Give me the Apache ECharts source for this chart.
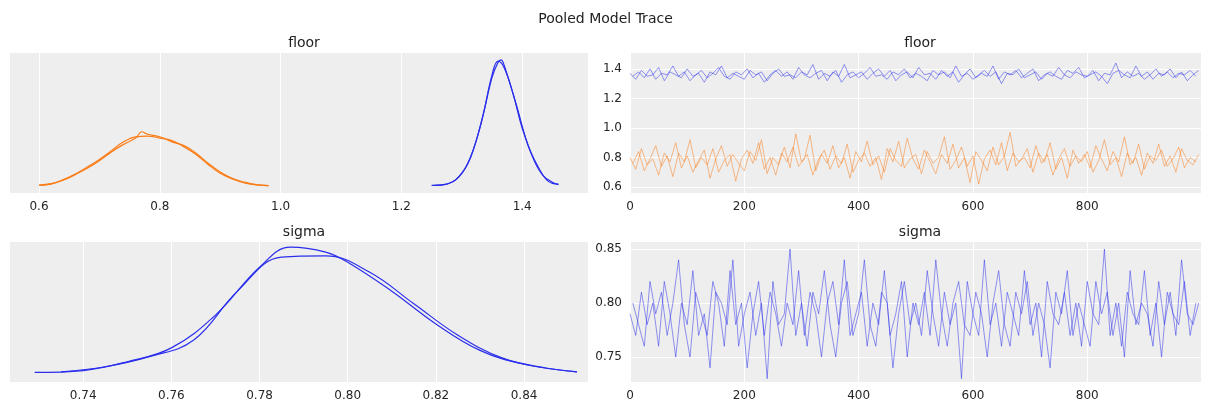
<!DOCTYPE html>
<html><head><meta charset="utf-8">
<script src="https://cdn.jsdelivr.net/npm/echarts@6/dist/echarts.min.js"></script>
<style>html,body{margin:0;background:#fff}#c{width:1211px;height:411px}</style>
</head><body><div id="c"></div>
<script>
// KDE curves: [x, density]
const floorKdeA = [[1.25,0.05],[1.27,0.1],[1.29,0.5],[1.31,1.8],[1.33,4.6],[1.35,8.6],[1.36,9.8],[1.365,10],[1.37,9.6],[1.39,6.5],[1.41,3.2],[1.43,1.2],[1.44,0.5],[1.45,0.2],[1.46,0.15]]
const floorKdeB = [[1.255,0.05],[1.275,0.15],[1.295,0.7],[1.315,2.3],[1.335,5.6],[1.35,8.8],[1.36,9.9],[1.37,9.4],[1.385,7.3],[1.40,4.6],[1.42,2.0],[1.435,0.8],[1.45,0.3],[1.46,0.1]]
const floorKdeC = [[0.60,0.05],[0.62,0.15],[0.64,0.45],[0.66,0.9],[0.68,1.4],[0.70,2.0],[0.72,2.7],[0.74,3.3],[0.76,3.8],[0.77,4.3],[0.78,4.1],[0.80,3.9],[0.82,3.5],[0.84,3.2],[0.86,2.6],[0.88,1.8],[0.90,1.1],[0.92,0.6],[0.94,0.3],[0.96,0.1],[0.98,0.03]]
const floorKdeD = [[0.60,0.07],[0.62,0.18],[0.64,0.5],[0.66,0.95],[0.68,1.5],[0.70,2.1],[0.72,2.8],[0.74,3.5],[0.76,3.9],[0.78,3.95],[0.80,3.8],[0.82,3.6],[0.84,3.1],[0.86,2.5],[0.88,1.7],[0.90,1.0],[0.92,0.55],[0.94,0.25],[0.96,0.08],[0.98,0.03]]
const sigmaKdeA = [[0.729,0.05],[0.74,0.2],[0.75,0.9],[0.76,2.0],[0.77,4.6],[0.78,8.4],[0.787,10],[0.795,9.6],[0.80,8.8],[0.81,6.5],[0.82,3.9],[0.83,1.8],[0.84,0.7],[0.852,0.1]]
const sigmaKdeB = [[0.735,0.1],[0.745,0.5],[0.755,1.3],[0.765,2.6],[0.775,6.5],[0.785,9.2],[0.795,9.3],[0.805,8.0],[0.815,5.5],[0.825,3.0],[0.835,1.2],[0.845,0.4],[0.852,0.1]]

// traces, one sample every 10 draws; second chains offset by 5 draws
const floorTraceA = [1.37,1.33,1.39,1.35,1.36,1.41,1.32,1.38,1.36,1.34,1.40,1.35,1.37,1.31,1.38,1.36,1.42,1.34,1.37,1.35,1.33,1.39,1.36,1.38,1.32,1.37,1.40,1.35,1.36,1.34,1.38,1.36,1.43,1.33,1.37,1.35,1.39,1.31,1.36,1.38,1.34,1.37,1.41,1.35,1.36,1.33,1.38,1.36,1.40,1.34,1.37,1.35,1.32,1.39,1.36,1.38,1.34,1.42,1.35,1.37,1.33,1.36,1.39,1.35,1.38,1.30,1.37,1.36,1.40,1.34,1.36,1.38,1.33,1.37,1.35,1.41,1.36,1.34,1.38,1.36,1.35,1.39,1.32,1.37,1.36,1.44,1.34,1.38,1.35,1.37,1.33,1.36,1.40,1.35,1.38,1.34,1.37,1.36,1.39,1.35]
const floorTraceC = [1.35,1.38,1.34,1.40,1.33,1.37,1.36,1.42,1.35,1.38,1.32,1.36,1.39,1.34,1.37,1.41,1.35,1.33,1.38,1.36,1.40,1.34,1.37,1.31,1.36,1.39,1.35,1.38,1.33,1.41,1.36,1.34,1.37,1.39,1.32,1.38,1.35,1.43,1.34,1.36,1.38,1.33,1.37,1.40,1.35,1.39,1.32,1.36,1.38,1.34,1.41,1.36,1.37,1.33,1.39,1.35,1.38,1.31,1.36,1.40,1.34,1.37,1.35,1.42,1.33,1.38,1.36,1.39,1.34,1.37,1.40,1.32,1.36,1.38,1.35,1.33,1.39,1.37,1.41,1.34,1.36,1.38,1.35,1.30,1.37,1.39,1.36,1.34,1.42,1.35,1.38,1.33,1.37,1.36,1.40,1.34,1.38,1.32,1.36,1.39]
const floorTraceB = [0.80,0.72,0.86,0.75,0.79,0.68,0.83,0.77,0.90,0.73,0.81,0.70,0.78,0.85,0.66,0.79,0.88,0.74,0.82,0.76,0.71,0.84,0.78,0.92,0.69,0.80,0.75,0.87,0.73,0.96,0.77,0.82,0.68,0.79,0.85,0.72,0.81,0.76,0.89,0.70,0.78,0.83,0.74,0.80,0.65,0.86,0.77,0.91,0.73,0.79,0.82,0.69,0.84,0.76,0.80,0.94,0.72,0.78,0.87,0.74,0.81,0.62,0.79,0.85,0.75,0.90,0.71,0.83,0.77,0.80,0.73,0.88,0.76,0.82,0.68,0.79,0.86,0.74,0.81,0.77,0.84,0.70,0.78,0.92,0.75,0.80,0.67,0.83,0.76,0.89,0.72,0.81,0.78,0.85,0.74,0.79,0.87,0.73,0.80,0.77]
const floorTraceD = [0.76,0.84,0.71,0.79,0.88,0.74,0.81,0.67,0.83,0.77,0.92,0.73,0.80,0.75,0.86,0.70,0.78,0.82,0.64,0.79,0.85,0.76,0.90,0.72,0.80,0.68,0.83,0.77,0.87,0.74,0.79,0.95,0.71,0.82,0.76,0.88,0.73,0.80,0.66,0.84,0.77,0.91,0.75,0.81,0.70,0.86,0.78,0.74,0.93,0.79,0.72,0.85,0.77,0.69,0.82,0.76,0.89,0.73,0.80,0.63,0.84,0.78,0.71,0.87,0.75,0.81,0.97,0.74,0.79,0.86,0.70,0.83,0.77,0.90,0.72,0.80,0.66,0.85,0.76,0.82,0.73,0.88,0.79,0.71,0.84,0.77,0.94,0.75,0.80,0.68,0.83,0.76,0.89,0.74,0.81,0.70,0.86,0.78,0.75,0.82]
const sigmaTraceA = [0.79,0.77,0.81,0.78,0.80,0.76,0.82,0.79,0.75,0.80,0.78,0.83,0.77,0.79,0.74,0.81,0.80,0.78,0.84,0.76,0.79,0.81,0.77,0.80,0.73,0.82,0.78,0.79,0.85,0.77,0.80,0.76,0.81,0.79,0.83,0.78,0.75,0.80,0.82,0.77,0.79,0.84,0.78,0.76,0.81,0.80,0.74,0.79,0.82,0.78,0.80,0.77,0.83,0.79,0.76,0.81,0.78,0.80,0.73,0.82,0.79,0.77,0.84,0.78,0.80,0.76,0.81,0.79,0.77,0.83,0.78,0.80,0.75,0.82,0.79,0.78,0.81,0.77,0.80,0.76,0.82,0.79,0.78,0.85,0.77,0.80,0.76,0.81,0.79,0.78,0.83,0.77,0.80,0.75,0.81,0.79,0.78,0.82,0.77,0.80]
const sigmaTraceB = [0.80,0.78,0.76,0.82,0.79,0.81,0.77,0.80,0.84,0.78,0.75,0.81,0.79,0.77,0.82,0.80,0.76,0.83,0.78,0.80,0.74,0.79,0.82,0.77,0.81,0.79,0.76,0.80,0.78,0.83,0.77,0.81,0.79,0.75,0.80,0.82,0.78,0.84,0.77,0.79,0.81,0.76,0.80,0.78,0.83,0.77,0.79,0.82,0.75,0.80,0.78,0.81,0.77,0.84,0.79,0.76,0.80,0.82,0.78,0.77,0.81,0.79,0.75,0.80,0.83,0.78,0.76,0.81,0.79,0.82,0.77,0.80,0.78,0.74,0.81,0.79,0.83,0.77,0.80,0.78,0.76,0.82,0.79,0.81,0.77,0.80,0.75,0.83,0.78,0.80,0.79,0.76,0.82,0.78,0.81,0.77,0.84,0.79,0.78,0.80]
const drawStep = 10

const floorKdeTicks = [0.6, 0.8, 1.0, 1.2, 1.4]
const sigmaKdeTicks = [0.74, 0.76, 0.78, 0.80, 0.82, 0.84]
const floorTraceTicks = [0.6, 0.8, 1.0, 1.2, 1.4]
const sigmaTraceTicks = [0.75, 0.80, 0.85]

const BLUE = '#2a2eec', ORANGE = '#fa7c17', TXT = '#262626'

function xy(arr, off) { return arr.map((v, i) => [i * drawStep + off, v]) }

function valAxis(gi, min, max, ticks, digits, show = true) {
  return {
    type: 'value', gridIndex: gi, min, max,
    axisLine: { show: false }, axisTick: { show: false, customValues: ticks },
    axisLabel: { show, customValues: ticks, color: TXT, fontSize: 12, formatter: v => v.toFixed(digits) },
    splitLine: { show: true, lineStyle: { color: '#fff', width: 1 } },
  }
}
function hideAxis(gi, min, max) {
  return { type: 'value', gridIndex: gi, min, max, axisLine: { show: false }, axisTick: { show: false },
    axisLabel: { show: false }, splitLine: { show: false } }
}
function traceX(gi) {
  return { type: 'value', gridIndex: gi, min: 0, max: 999, interval: 200,
    axisLine: { show: false }, axisTick: { show: false },
    axisLabel: { color: TXT, fontSize: 12, showMaxLabel: false },
    splitLine: { lineStyle: { color: '#fff' } } }
}
function kde(data, color, gi) {
  return { type: 'line', xAxisIndex: gi, yAxisIndex: gi, data, smooth: 0.4, showSymbol: false,
    lineStyle: { color, width: 1.2 }, silent: true }
}
function trace(data, color, gi, off) {
  return { type: 'line', xAxisIndex: gi, yAxisIndex: gi, data: xy(data, off), showSymbol: false,
    lineStyle: { color, width: 1, opacity: 0.5 }, silent: true }
}

const titleStyle = { fontSize: 14, fontWeight: 'normal', color: '#222' }
const gridBg = { show: true, backgroundColor: '#eeeeee', borderWidth: 0 }
const chart = echarts.init(document.getElementById('c'), null, { renderer: 'canvas' })
chart.setOption({
  animation: false,
  textStyle: { fontFamily: 'DejaVu Sans' },
  title: [
    { text: 'Pooled Model Trace', left: 'center', top: 7, textStyle: titleStyle },
    { text: 'floor', left: 299, textAlign: 'center', top: 31, textStyle: titleStyle },
    { text: 'floor', left: 915, textAlign: 'center', top: 31, textStyle: titleStyle },
    { text: 'sigma', left: 299, textAlign: 'center', top: 220, textStyle: titleStyle },
    { text: 'sigma', left: 915, textAlign: 'center', top: 220, textStyle: titleStyle },
  ],
  grid: [
    { left: 10, top: 53, width: 578, height: 140, ...gridBg },
    { left: 630, top: 53, width: 571, height: 140, ...gridBg },
    { left: 10, top: 242, width: 578, height: 140, ...gridBg },
    { left: 630, top: 242, width: 571, height: 140, ...gridBg },
  ],
  xAxis: [
    valAxis(0, 0.552, 1.509, floorKdeTicks, 1),
    traceX(1),
    valAxis(2, 0.7234, 0.8545, sigmaKdeTicks, 2),
    traceX(3),
  ],
  yAxis: [
    hideAxis(0, -0.56, 10.55),
    valAxis(1, 0.559, 1.508, floorTraceTicks, 1),
    hideAxis(2, -0.71, 10.4),
    valAxis(3, 0.7269, 0.8565, sigmaTraceTicks, 2),
  ],
  series: [
    kde(floorKdeC, ORANGE, 0), kde(floorKdeD, ORANGE, 0),
    kde(floorKdeA, BLUE, 0), kde(floorKdeB, BLUE, 0),
    trace(floorTraceA, BLUE, 1, 0), trace(floorTraceC, BLUE, 1, 5),
    trace(floorTraceB, ORANGE, 1, 0), trace(floorTraceD, ORANGE, 1, 5),
    kde(sigmaKdeA, BLUE, 2), kde(sigmaKdeB, BLUE, 2),
    trace(sigmaTraceA, BLUE, 3, 0), trace(sigmaTraceB, BLUE, 3, 5),
  ],
})
</script></body></html>
